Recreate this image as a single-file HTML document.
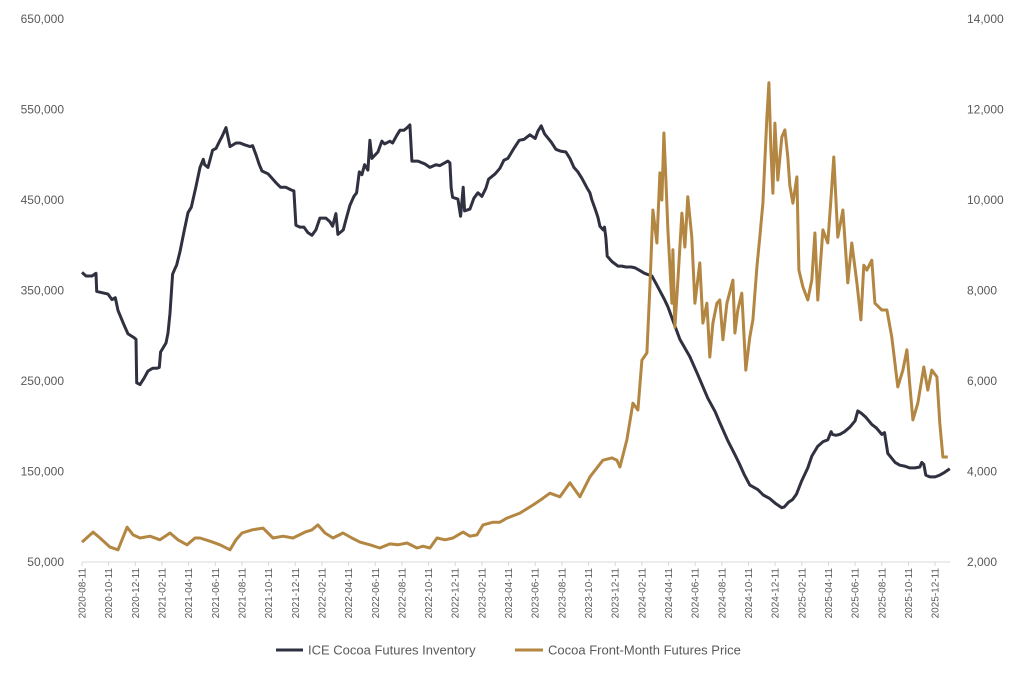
<!DOCTYPE html>
<html><head><meta charset="utf-8">
<style>
html,body{margin:0;padding:0;background:#fff;}
svg text{font-family:"Liberation Sans",sans-serif;fill:#595959;}
</style></head>
<body>
<svg id="chart" width="1024" height="675" viewBox="0 0 1024 675" xmlns="http://www.w3.org/2000/svg">
<rect width="1024" height="675" fill="#fff"/>
<g id="axes"></g>
<g id="series"></g>
<g id="legend">
  <line x1="276" y1="650" x2="303" y2="650" stroke="#2f3140" stroke-width="3"/>
  <text x="308" y="654.5" font-size="13">ICE Cocoa Futures Inventory</text>
  <line x1="515" y1="650" x2="543" y2="650" stroke="#b38642" stroke-width="3"/>
  <text x="548" y="654.5" font-size="13">Cocoa Front-Month Futures Price</text>
</g>
</svg>
<script>
// months since 2020-08-11
const invMonths=[0,0.3,0.75,1.05,1.1,1.95,2.25,2.5,2.7,3.15,3.45,3.9,4.05,4.1,4.35,4.65,4.95,5.3,5.6,5.8,5.9,6.3,6.45,6.6,6.8,7.0,7.1,7.35,7.65,7.95,8.2,8.55,8.85,9.1,9.2,9.45,9.8,10.05,10.35,10.5,10.8,11.1,11.55,11.85,12.2,12.6,12.8,13.05,13.3,13.5,13.95,14.25,14.55,14.9,15.3,15.7,15.9,16.05,16.35,16.65,16.95,17.25,17.55,17.85,18.3,18.6,18.8,19.05,19.2,19.6,19.8,20.1,20.4,20.6,20.8,21.0,21.2,21.45,21.6,21.75,22.2,22.5,22.7,23.1,23.3,23.6,23.85,24.15,24.4,24.6,24.75,25.0,25.2,25.7,26.1,26.55,26.85,27.45,27.6,27.7,27.8,28.2,28.4,28.6,28.7,29.1,29.4,29.7,30.0,30.3,30.5,31.0,31.35,31.65,31.95,32.4,32.8,33.15,33.6,34.0,34.2,34.45,34.7,35.2,35.55,35.9,36.3,36.6,36.9,37.2,37.5,37.9,38.1,38.25,38.5,38.7,38.85,39.1,39.2,39.3,39.4,39.75,40.2,40.5,40.8,41.2,41.5,41.85,42.2,42.75,43.05,43.7,43.95,44.5,44.85,45.6,46.2,46.95,47.5,47.85,48.45,49.0,49.3,49.7,50.1,50.7,51.1,51.6,52.0,52.5,52.7,53.0,53.3,53.6,54.0,54.45,54.75,55.2,55.6,55.95,56.2,56.3,56.55,56.85,57.2,57.6,58.0,58.2,58.5,58.8,59.25,59.6,60.0,60.2,60.45,61.0,61.35,61.7,62.1,62.5,62.85,63.0,63.15,63.3,63.6,64.0,64.35,64.7,65.1];
// inventory, thousands of units
const invValues=[370,366,366,369,349,346,340,342,328,312,302,298,296,248,246,253,261,264,264,265,282,292,303,325,368,375,378,393,415,436,442,465,486,495,489,486,505,507,516,520,530,509,513,513,511,509,510,500,489,482,479,474,469,464,464,461,460,422,420,420,414,411,417,430,430,426,421,435,412,417,428,444,454,458,481,478,489,483,516,496,503,515,512,515,513,521,527,527,530,533,493,493,493,490,486,489,488,493,491,463,453,451,432,464,438,440,452,458,454,463,473,479,485,494,496,507,516,517,522,518,526,532,523,514,506,504,503,496,486,481,474,463,458,450,440,431,421,417,420,408,388,382,377,377,376,376,375,372,369,366,358,340,332,310,296,277,257,231,216,204,184,168,159,146,135,130,124,120,115,110,111,116,119,125,140,154,167,178,183,185,194,191,190,191,194,199,206,217,214,210,202,198,191,193,170,160,157,156,154,154,155,160,158,146,144,144,146,149,153];
const priceMonths=[0,0.83,1.35,2.1,2.7,3,3.38,3.83,4.35,5.1,5.85,6.6,7.2,7.88,8.48,8.85,9.6,10.35,11.1,11.55,12,12.75,13.58,14.33,15.08,15.83,16.73,17.25,17.7,18.23,18.83,19.58,20.25,20.85,21.6,22.35,23.1,23.7,24.38,25.13,25.58,26.1,26.63,27.23,27.83,28.58,29.1,29.63,30.08,30.83,31.35,31.88,32.85,33.83,34.58,35.1,35.85,36.6,37.35,38.1,39.08,39.75,40.13,40.35,40.88,41.33,41.7,42,42.38,42.6,42.83,43.13,43.35,43.5,43.65,43.8,43.95,44.25,44.33,44.48,44.7,45,45.23,45.45,45.75,45.98,46.35,46.58,46.88,47.1,47.33,47.63,47.85,48.08,48.38,48.83,48.98,49.2,49.5,49.8,50.1,50.33,50.63,50.85,51.08,51.38,51.53,51.68,51.83,51.98,52.2,52.5,52.73,52.95,53.1,53.33,53.63,53.78,54.08,54.45,54.75,54.98,55.2,55.58,55.95,56.18,56.4,56.7,57.08,57.45,57.75,58.13,58.43,58.65,58.88,59.25,59.48,60,60.38,60.75,61.2,61.58,61.88,62.1,62.33,62.7,63.15,63.45,63.75,64.13,64.35,64.58,64.95];
const priceValues=[2440,2660,2530,2330,2270,2490,2770,2600,2530,2570,2490,2640,2490,2380,2530,2530,2460,2380,2270,2490,2640,2710,2750,2530,2570,2530,2660,2710,2820,2640,2530,2640,2530,2440,2380,2310,2400,2380,2420,2310,2350,2310,2530,2490,2530,2660,2570,2600,2820,2880,2880,2970,3080,3260,3410,3520,3440,3750,3440,3880,4250,4300,4250,4100,4700,5510,5360,6460,6620,8080,9780,9050,10600,10000,11480,10440,9340,7720,8900,7190,8230,9710,8960,10070,9180,7720,8610,7280,7720,6530,7280,7720,7790,6910,7720,8230,7060,7570,7940,6240,6970,7350,8520,9180,9930,11830,12590,11110,10150,11700,10440,11390,11550,10950,10330,9930,10510,8450,8080,7790,8230,9270,7790,9340,9050,10000,10950,9180,9780,8170,9050,8170,7350,8560,8450,8670,7720,7570,7570,6970,5870,6240,6690,5910,5140,5510,6310,5800,6240,6090,5070,4320,4320];
const leftTicks=[50000,150000,250000,350000,450000,550000,650000];
const rightTicks=[2000,4000,6000,8000,10000,12000,14000];
const xTickLabels=[];
for(let y=2020,mo=8;;){xTickLabels.push(y+'-'+String(mo).padStart(2,'0')+'-11');mo+=2;if(mo>12){mo-=12;y++;}if(y===2026)break;}

const NS='http://www.w3.org/2000/svg';
const X0=82, PXM=13.33, YB=562, YT=19;
const xS=m=>X0+m*PXM;
const yL=v=>YB-(v-50000)/600000*(YB-YT);
const yR=v=>YB-(v-2000)/12000*(YB-YT);
function mk(tag,attrs,parent){const e=document.createElementNS(NS,tag);for(const k in attrs)e.setAttribute(k,attrs[k]);parent.appendChild(e);return e;}
const axes=document.getElementById('axes'), ser=document.getElementById('series');
const ax=mk('line',{x1:X0,y1:YB,x2:950,y2:YB,stroke:'#d9d9d9','stroke-width':1},axes);


leftTicks.forEach(v=>{const t=mk('text',{x:64,y:yL(v)+4,'font-size':12,'text-anchor':'end'},axes);t.textContent=v.toLocaleString('en-US');

});
rightTicks.forEach(v=>{const t=mk('text',{x:967,y:yR(v)+4,'font-size':12},axes);t.textContent=v.toLocaleString('en-US');

});
xTickLabels.forEach((s,i)=>{const x=xS(i*2);
const tk=mk('line',{x1:x,y1:YB,x2:x,y2:YB+4,stroke:'#d9d9d9'},axes);


const t=mk('text',{x:0,y:0,'font-size':10,'text-anchor':'end',transform:`translate(${x+3.5},${YB+6}) rotate(-90)`},axes);t.textContent=s;

});
function line(ms,vs,ys,col,name){const d=ms.map((m,i)=>(i?'L':'M')+xS(m).toFixed(1)+','+ys(vs[i]).toFixed(1)).join('');
const p=mk('path',{d,fill:'none',stroke:col,'stroke-width':3,'stroke-linejoin':'round'},ser);

}
line(invMonths,invValues.map(v=>v*1000),yL,'#2f3140','inventory-line');
line(priceMonths,priceValues,yR,'#b38642','price-line');
</script>
</body></html>
